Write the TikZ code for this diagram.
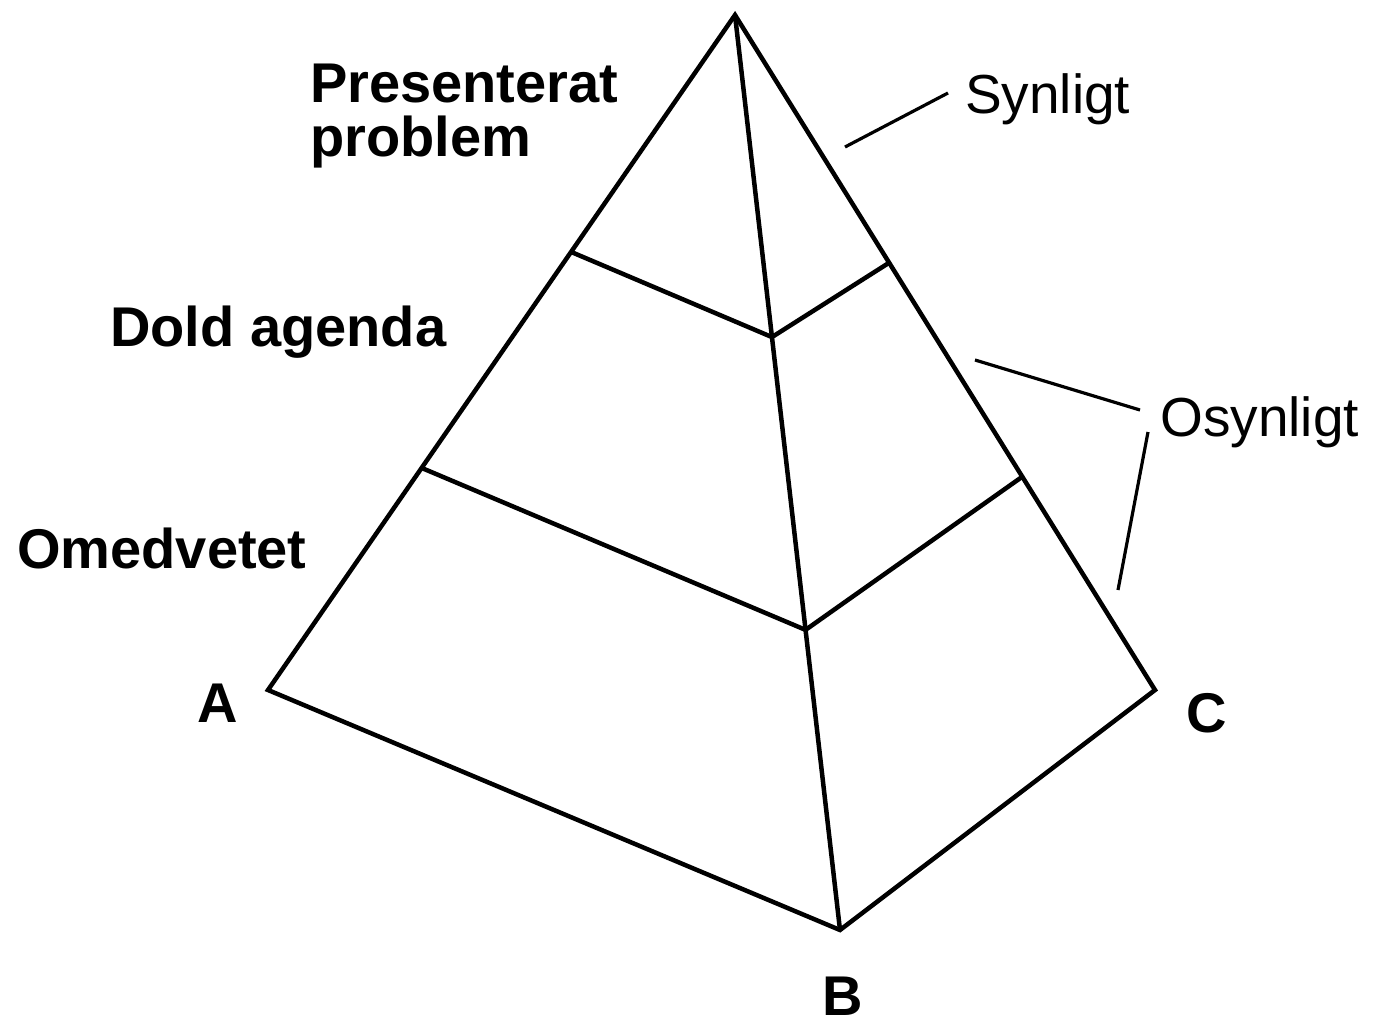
\documentclass[tikz,border=0pt]{standalone}
\usepackage{fontspec}
\setmainfont{Liberation Sans}
\usetikzlibrary{calc}
\begin{document}
\begin{tikzpicture}[x=1pt,y=-1pt,
  edge/.style={line width=4.5pt,line join=miter},
  lead/.style={line width=3.2pt},
  blabel/.style={font=\fontsize{56}{54}\selectfont\bfseries,inner sep=0pt},
  rlabel/.style={font=\fontsize{55}{54}\selectfont,inner sep=0pt}]
\useasboundingbox (0,0) rectangle (1376,1028);
\coordinate (T) at (735,15);
\coordinate (A) at (268,690);
\coordinate (B) at (840,930);
\coordinate (C) at (1155,690);
\coordinate (L1) at ($(T)!0.351!(A)$);
\coordinate (M1) at ($(T)!0.352!(B)$);
\coordinate (R1) at ($(T)!0.367!(C)$);
\coordinate (L2) at ($(T)!0.671!(A)$);
\coordinate (M2) at ($(T)!0.672!(B)$);
\coordinate (R2) at ($(T)!0.684!(C)$);
\draw[edge] (T) -- (A) -- (B) -- (C) -- cycle;
\draw[edge] (T) -- (B);
\draw[edge] (L1) -- (M1) -- (R1);
\draw[edge] (L2) -- (M2) -- (R2);
% leaders
\coordinate (s1) at (845,147);
\coordinate (s2) at (948,93);
\coordinate (o1) at (975,360);
\coordinate (o2) at (1140,410);
\coordinate (o3) at (1148,432);
\coordinate (o4) at (1118,590);
\draw[lead] (s1) -- (s2);
\draw[lead] (o1) -- (o2);
\draw[lead] (o3) -- (o4);
\node[rlabel,anchor=base west] (syn) at (965,113) {Synligt};
\node[rlabel,anchor=base west] (osyn) at (1160,436) {Osynligt};
\node[blabel,anchor=north west,align=left] (pp) at (310,64) {Presenterat\\problem};
\node[blabel,anchor=base west] (dold) at (110,346) {Dold agenda};
\node[blabel,anchor=base west] (omed) at (17,568) {Omedvetet};
\node[blabel,anchor=base] (la) at (218,722) {A};
\node[blabel,anchor=base] (lb) at (843,1015) {B};
\node[blabel,anchor=base] (lc) at (1207,732) {C};
\end{tikzpicture}
\end{document}
